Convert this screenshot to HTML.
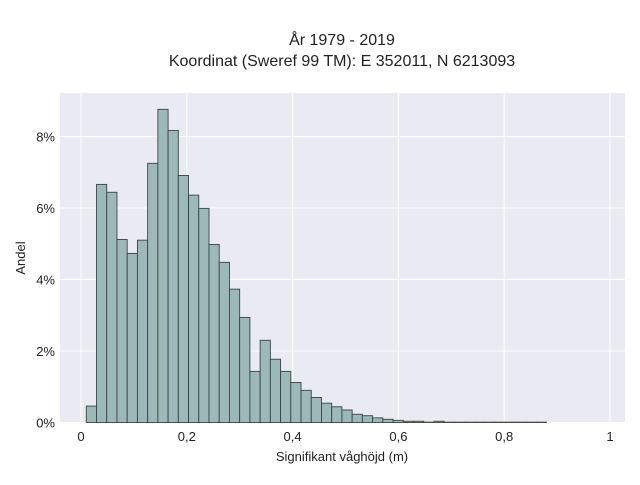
<!DOCTYPE html>
<html><head><meta charset="utf-8"><style>
body{margin:0;background:#fff;width:640px;height:480px;overflow:hidden;font-family:"Liberation Sans",sans-serif}
</style></head><body>
<svg width="640" height="480" xmlns="http://www.w3.org/2000/svg">
<text x="342" y="45" text-anchor="middle" font-size="16" fill="#222">År 1979 - 2019</text>
<text x="342" y="66" text-anchor="middle" font-size="16" fill="#222">Koordinat (Sweref 99 TM): E 352011, N 6213093</text>
<rect x="60" y="93" width="565" height="330" fill="#eaeaf2"/>
<g id="grid"></g><g id="bars"></g><g id="ticks"></g>
<text x="342" y="461" text-anchor="middle" font-size="13" fill="#222">Signifikant våghöjd (m)</text>
<text transform="translate(25,258) rotate(-90)" text-anchor="middle" font-size="13" fill="#222">Andel</text>
</svg>
<script>
const binStart = 0.01;
const binWidth = 0.01933;
const values = [0.46,6.66,6.44,5.12,4.73,5.10,7.25,8.76,8.17,6.91,6.36,5.99,4.98,4.48,3.73,2.94,1.43,2.30,1.77,1.43,1.12,0.90,0.70,0.54,0.44,0.35,0.23,0.19,0.13,0.09,0.06,0.035,0.035,0.01,0.035,0.01,0.01,0.01,0.01,0.01,0.01,0.01,0.01,0.01,0.01];
const xTicks = [0,0.2,0.4,0.6,0.8,1];
const xTickLabels = ["0","0,2","0,4","0,6","0,8","1"];
const yTicks = [0,2,4,6,8];
const yTickLabels = ["0%","2%","4%","6%","8%"];
const NS="http://www.w3.org/2000/svg";
const X=v=>81+v*529;
const Y=v=>422.5-v*35.75;
function mk(tag,attrs,parent){const e=document.createElementNS(NS,tag);for(const k in attrs)e.setAttribute(k,attrs[k]);parent.appendChild(e);return e;}
const grid=document.getElementById('grid'),bars=document.getElementById('bars'),ticks=document.getElementById('ticks');
xTicks.forEach((t,i)=>{
 const l=mk('line',{x1:X(t),x2:X(t),y1:93,y2:423,stroke:'#fff','stroke-width':1},grid);
 
 
 const tx=mk('text',{x:X(t),y:441,'text-anchor':'middle','font-size':13,fill:'#222'},ticks);
 tx.textContent=xTickLabels[i];
 
 
});
yTicks.forEach((t,i)=>{
 const l=mk('line',{x1:60,x2:625,y1:Y(t),y2:Y(t),stroke:'#fff','stroke-width':1},grid);
 
 
 const tx=mk('text',{x:55,y:Y(t)+5,'text-anchor':'end','font-size':13,fill:'#222'},ticks);
 tx.textContent=yTickLabels[i];
 
 
});
values.forEach((v,i)=>{
 const x0=X(binStart+i*binWidth),x1=X(binStart+(i+1)*binWidth);
 const r=mk('rect',{x:x0,y:Y(v),width:x1-x0,height:Y(0)-Y(v),fill:'#9db8b8',stroke:'#3c4444','stroke-width':0.9},bars);
 
 
});
</script>
</body></html>
